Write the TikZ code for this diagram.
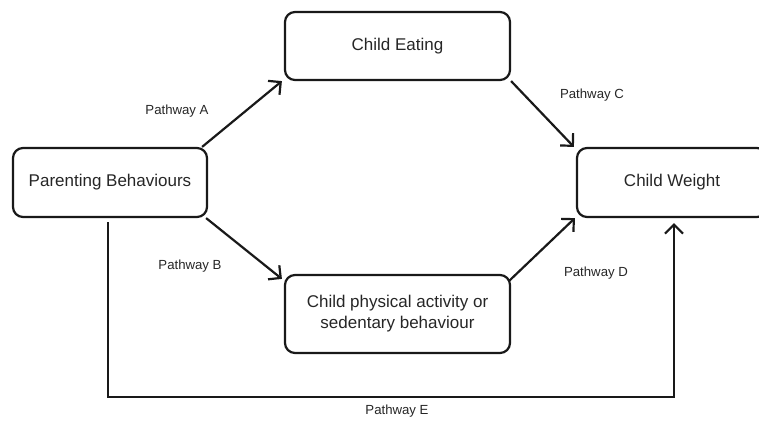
\documentclass[tikz,border=0pt]{standalone}
\usepackage{fontspec}
\setmainfont{Liberation Sans}
\usetikzlibrary{arrows.meta}

\begin{document}
\begin{tikzpicture}[x=1pt,y=-1pt,
    box/.style={draw=black!90,line width=2.2pt,rounded corners=10pt,align=center,
      inner sep=0pt,text=black!85,font=\fontsize{17}{21}\selectfont},
    lbl/.style={font=\fontsize{13.2}{16}\selectfont,text=black!85},
    pathway/.style={draw=black!90,line width=2.2pt,-{Straight Barb[length=9pt,width=18pt,line width=2.2pt]}}]
      \useasboundingbox (0,0) rectangle (759,420);
      \node[box,minimum width=194pt,minimum height=69pt] (parent) at (110,182.5) {Parenting Behaviours};
      \node[box,minimum width=225pt,minimum height=68pt] (eating) at (397.5,46) {Child Eating};
      \node[box,minimum width=225pt,minimum height=78pt] (activity) at (397.5,314) {Child physical activity or\\sedentary behaviour};
      \node[box,minimum width=190pt,minimum height=69pt] (weight) at (672,182.5) {Child Weight};
      \draw[pathway] ([xshift=-6pt]parent.north east) -- ([xshift=-2pt]eating.south west);
      \draw[pathway] ([xshift=-2pt]parent.south east) -- ([xshift=-2pt,yshift=-5pt]activity.north west);
      \draw[pathway] (eating.south east) -- ([xshift=-2pt]weight.north west);
      \draw[pathway] ([xshift=-2pt,yshift=-7pt]activity.north east) -- ([xshift=-1pt]weight.south west);
      \draw[pathway,line width=1.5pt] ([xshift=-2pt,yshift=-4pt]parent.south) -- ++(0,175) -| ([xshift=2pt,yshift=-5pt]weight.south);
      \node[lbl] (pa) at (177,111) {Pathway A};
      \node[lbl] (pb) at (190,266) {Pathway B};
      \node[lbl] (pc) at (592,95) {Pathway C};
      \node[lbl] (pd) at (596,273) {Pathway D};
      \node[lbl] (pe) at (397,411) {Pathway E};
    \end{tikzpicture}
\end{document}
